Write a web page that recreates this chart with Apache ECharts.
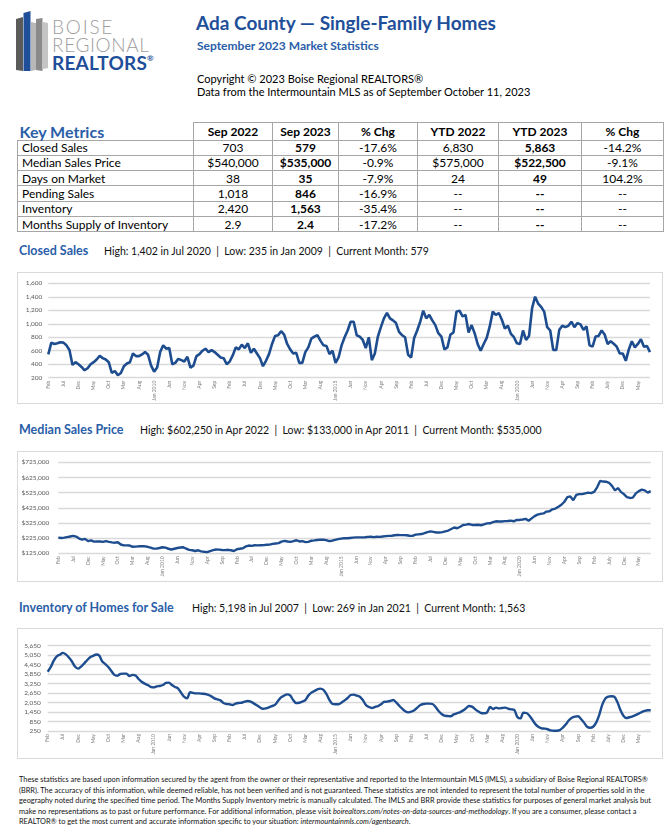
<!DOCTYPE html>
<html><head><meta charset="utf-8">
<script src="https://cdn.jsdelivr.net/npm/echarts@6/dist/echarts.min.js"></script>
<style>
html,body{margin:0;padding:0;background:#fff;}
body{width:671px;height:830px;position:relative;overflow:hidden;font-family:Lato,'Noto Sans',sans-serif;color:#000;}
.abs{position:absolute;white-space:nowrap;line-height:1;}
#title{left:196px;top:13px;font-size:19px;font-weight:bold;color:#1f4f99;}
#subtitle{left:197px;top:40px;font-size:12px;font-weight:bold;color:#2a5ea8;}
#copy1{left:197px;top:72.5px;font-size:11px;}
#copy2{left:197px;top:86px;font-size:11px;}
.box{position:absolute;border:1px solid #d9d9d9;box-sizing:border-box;left:17px;width:646px;}
.sec{position:absolute;white-space:nowrap;line-height:1;font-size:12.5px;}
.sec b{font-size:12.5px;color:#2a5ea8;}
.sec span{font-size:10.5px;color:#111;}
#kt{position:absolute;left:17px;top:122px;border-collapse:collapse;table-layout:fixed;font-size:12px;}
#kt td{border:1.5px solid #a6a6a6;padding:0;text-align:center;height:14.3px;line-height:13px;white-space:nowrap;}
#kt td.l{text-align:left;padding-left:4px;}
#kt tr.h td{height:16.5px;font-weight:bold;}
#kt tr.h td.km{border-top:none;border-left:none;font-size:16px;color:#2a5ea8;text-align:left;padding-left:2px;}
#kt td.b{font-weight:bold;}
#foot{position:absolute;left:19px;top:775px;font-size:7px;line-height:10.6px;color:#111;}
#foot div{white-space:nowrap;}
#chart{position:absolute;left:0;top:0;width:671px;height:830px;z-index:2;pointer-events:none;}
#logo{position:absolute;left:14px;top:8px;}
.lg{position:absolute;white-space:nowrap;line-height:1;}
</style></head>
<body>
<svg id="logo" width="42" height="68" viewBox="0 0 42 68">
  <polygon points="2,11 9,9 9,63 2,62" fill="#5b5b5b"/>
  <polygon points="9.5,5 16.5,3 16.5,63 9.5,63" fill="#1f4f99"/>
  <polygon points="17,14 22,15 22,62 17,63" fill="#b9b9b9"/>
  <polygon points="22,11 28.5,10 28.5,63 22,62" fill="#8a8a8a"/>
  <polygon points="29,14 34,15 34,60 29,61" fill="#c4c4c4"/>
</svg>
<div class="lg" style="left:52px;top:17px;font-size:19px;font-weight:300;color:#9d9d9d;letter-spacing:1.8px;">BOISE</div>
<div class="lg" style="left:52px;top:35px;font-size:19px;font-weight:300;color:#9d9d9d;letter-spacing:0.6px;">REGIONAL</div>
<div class="lg" style="left:52px;top:53px;font-size:19px;font-weight:bold;color:#1f4f99;letter-spacing:0.2px;">REALTORS<span style="font-size:8px;vertical-align:top;position:relative;top:1px;">®</span></div>

<div id="title" class="abs">Ada County — Single-Family Homes</div>
<div id="subtitle" class="abs">September 2023 Market Statistics</div>
<div id="copy1" class="abs">Copyright © 2023 Boise Regional REALTORS®</div>
<div id="copy2" class="abs">Data from the Intermountain MLS as of September October 11, 2023</div>

<table id="kt"></table>

<div class="sec" style="left:19px;top:245px;"><b>Closed Sales</b></div>
<div class="sec" style="left:104px;top:245px;"><span id="sub1"></span></div>
<div class="box" style="top:272px;height:132px;"></div>

<div class="sec" style="left:19px;top:424px;"><b>Median Sales Price</b></div>
<div class="sec" style="left:140px;top:424px;"><span id="sub2"></span></div>
<div class="box" style="top:451px;height:131px;"></div>

<div class="sec" style="left:19px;top:602px;"><b>Inventory of Homes for Sale</b></div>
<div class="sec" style="left:192px;top:602px;"><span id="sub3"></span></div>
<div class="box" style="top:628px;height:131px;"></div>

<div id="foot">
<div>These statistics are based upon information secured by the agent from the owner or their representative and reported to the Intermountain MLS (IMLS), a subsidiary of Boise Regional REALTORS®</div>
<div>(BRR). The accuracy of this information, while deemed reliable, has not been verified and is not guaranteed. These statistics are not intended to represent the total number of properties sold in the</div>
<div>geography noted during the specified time period. The Months Supply Inventory metric is manually calculated. The IMLS and BRR provide these statistics for purposes of general market analysis but</div>
<div>make no representations as to past or future performance. For additional information, please visit <i>boirealtors.com/notes-on-data-sources-and-methodology</i>. If you are a consumer, please contact a</div>
<div>REALTOR® to get the most current and accurate information specific to your situation: <i>intermountainmls.com/agentsearch</i>.</div>
</div>

<div id="chart"></div>
<script>
// ---------- Key metrics table ----------
const metricLabels = ['Closed Sales','Median Sales Price','Days on Market','Pending Sales','Inventory','Months Supply of Inventory'];
const tableHeaders = ['Sep 2022','Sep 2023','% Chg','YTD 2022','YTD 2023','% Chg'];
const sep2022 = ['703','$540,000','38','1,018','2,420','2.9'];
const sep2023 = ['579','$535,000','35','846','1,563','2.4'];
const monthChg = ['-17.6%','-0.9%','-7.9%','-16.9%','-35.4%','-17.2%'];
const ytd2022 = ['6,830','$575,000','24','--','--','--'];
const ytd2023 = ['5,863','$522,500','49','--','--','--'];
const ytdChg = ['-14.2%','-9.1%','104.2%','--','--','--'];

// ---------- chart header texts ----------
const closedSub = 'High: 1,402 in Jul 2020  |  Low: 235 in Jan 2009  |  Current Month: 579';
const priceSub = 'High: $602,250 in Apr 2022  |  Low: $133,000 in Apr 2011  |  Current Month: $535,000';
const invSub = 'High: 5,198 in Jul 2007  |  Low: 269 in Jan 2021  |  Current Month: 1,563';

// ---------- x axis ----------
const startYear = 2007, startMonth = 1; // Feb 2007 (0-based month)
const monthCount = 200;                  // through Sep 2023
const xTickLabels = ['Feb','Jul','Dec','May','Oct','Mar','Aug','Jan 2010','Jun','Nov','Apr','Sep','Feb','Jul','Dec','May','Oct','Mar','Aug','Jan 2015','Jun','Nov','Apr','Sep','Feb','Jul','Dec','May','Oct','Mar','Aug','Jan 2020','Jun','Nov','Apr','Sep','Feb','July','Dec','May'];

// ---------- series values (Feb 2007 .. Sep 2023) ----------
const closedSales = [
545,720,700,710,725,720,680,610,390,430,
400,360,310,340,400,430,470,525,490,470,
430,270,300,235,270,370,410,430,560,520,
520,545,580,540,380,290,350,580,680,630,
640,400,420,480,460,440,510,350,380,520,
550,600,630,580,610,580,540,500,490,400,
440,530,650,620,690,640,710,570,630,560,
490,370,450,550,700,820,830,890,840,700,
620,560,570,420,420,580,650,780,810,830,
750,680,670,550,600,420,500,680,800,900,
1030,1030,830,810,760,640,800,460,560,810,
950,1080,1160,1080,1050,1010,880,830,800,540,
500,790,900,1030,1195,1080,1130,1050,980,860,
810,620,650,840,870,1180,1195,1110,1130,870,
980,860,700,600,700,790,960,1180,1130,1160,
1060,930,970,850,800,710,700,900,760,820,
1230,1402,1300,1250,1180,950,900,610,610,910,
970,950,970,1030,950,1010,990,910,960,680,
660,810,820,900,840,700,740,703,660,560,
560,450,620,740,650,700,770,660,670,579];

const medianPrice = [
228000,226000,228000,232000,236000,240000,235000,222000,215000,220000,
205000,210000,202000,203000,203000,200000,205000,200000,197000,195000,
198000,183000,177000,177000,176000,168000,169000,171000,172000,171000,
168000,162000,156000,156000,160000,165000,162000,155000,150000,155000,
160000,163000,165000,155000,148000,145000,140000,145000,138000,135000,
133000,140000,146000,150000,149000,147000,146000,148000,145000,140000,
152000,155000,158000,170000,176000,174000,178000,177000,178000,179000,
181000,182000,187000,190000,192000,202000,207000,203000,200000,205000,
211000,203000,205000,199000,200000,208000,210000,213000,215000,214000,
212000,205000,208000,213000,218000,222000,224000,224000,226000,228000,
230000,230000,230000,231000,233000,234000,232000,234000,233000,236000,
238000,240000,241000,244000,246000,245000,245000,244000,241000,240000,
248000,250000,252000,258000,265000,270000,266000,262000,262000,265000,
270000,275000,285000,295000,290000,300000,312000,314000,318000,312000,
312000,313000,310000,316000,322000,323000,330000,336000,335000,335000,
337000,338000,340000,336000,345000,345000,348000,352000,340000,355000,
370000,380000,385000,388000,400000,402000,415000,420000,432000,445000,
465000,495000,500000,475000,510000,515000,515000,520000,525000,522000,
530000,560000,602250,598000,597000,590000,570000,540000,555000,530000,
515000,495000,490000,492000,520000,535000,545000,540000,525000,535000];

const inventory = [
4000,4300,4700,4980,5080,5198,5100,4900,4650,4330,
4200,4330,4520,4730,4920,5010,5090,5030,4650,4490,
4300,4050,3800,3750,3860,3880,3880,3730,3800,3770,
3540,3370,3250,3160,3040,3010,3080,3100,3160,3290,
3310,3160,3040,2950,2680,2420,2320,2700,2660,2630,
2630,2610,2590,2530,2440,2320,2250,2190,2020,1960,
1940,1900,1980,2020,2040,2110,2150,2110,2000,1880,
1750,1660,1680,1750,1830,1900,2150,2380,2490,2570,
2510,2210,2020,2040,2110,2210,2490,2680,2780,2890,
2930,2850,2590,2210,1960,1940,1940,2060,2190,2340,
2530,2550,2490,2420,2210,1900,1770,1710,1770,1830,
1940,2090,2110,2150,2210,2060,1850,1660,1500,1430,
1470,1560,1730,1900,1960,1980,1980,1960,1770,1520,
1330,1220,1200,1180,1300,1370,1430,1540,1680,1830,
1790,1640,1500,1390,1370,1430,1770,1640,1730,1680,
1710,1730,1660,1620,1580,1140,1050,1410,1390,1220,
950,670,500,420,400,360,290,269,270,310,
460,670,930,1090,1160,1180,1010,780,520,460,
520,780,1260,1900,2300,2430,2450,2420,2080,1580,
1220,1070,1120,1180,1260,1350,1450,1520,1560,1563];

// ---------- build table ----------
(function(){
  const t = document.getElementById('kt');
  const widths = [176,79,66,79,81,83,82];
  let cg = '<colgroup>' + widths.map(w=>'<col style="width:'+w+'px">').join('') + '</colgroup>';
  let h = '<tr class="h"><td class="km">Key Metrics</td>' + tableHeaders.map(x=>'<td>'+x+'</td>').join('') + '</tr>';
  for (let i=0;i<metricLabels.length;i++){
    h += '<tr><td class="l">'+metricLabels[i]+'</td><td>'+sep2022[i]+'</td><td class="b">'+sep2023[i]+'</td><td>'+monthChg[i]+'</td><td>'+ytd2022[i]+'</td><td class="b">'+ytd2023[i]+'</td><td>'+ytdChg[i]+'</td></tr>';
  }
  t.innerHTML = cg + h;
  t.style.width = widths.reduce((a,b)=>a+b,0)+'px';
  document.getElementById('sub1').textContent = closedSub;
  document.getElementById('sub2').textContent = priceSub;
  document.getElementById('sub3').textContent = invSub;
  document.querySelectorAll('.sec span').forEach(s=>{s.style.whiteSpace='pre';});
  // fit footer lines
  const lines = document.querySelectorAll('#foot div');
  const w0 = lines[0].getBoundingClientRect().width;
  const fs = 7 * 633 / w0;
  document.getElementById('foot').style.fontSize = fs.toFixed(2)+'px';
})();

// ---------- charts ----------
const months = [];
for (let i=0;i<monthCount;i++){
  const m = (startMonth + i) % 12, y = startYear + Math.floor((startMonth + i)/12);
  months.push(['Jan','Feb','Mar','Apr','May','Jun','Jul','Aug','Sep','Oct','Nov','Dec'][m] + ' ' + y);
}
const LINE = '#1d4d8f', GRID = '#d9d9d9';
const fmtNum = v => v.toLocaleString('en-US');
function xAxisFor(k){
  return {gridIndex:k, type:'category', data:months, boundaryGap:false,
    axisLine:{show:false}, axisTick:{show:false}, splitLine:{show:false},
    axisLabel:{interval:4, rotate:90, fontSize:5, color:'#7f7f7f', margin:3, fontFamily:'Lato',
      formatter:(v,idx)=> (idx%5===0 ? (xTickLabels[idx/5]||'') : '')}};
}
const chart = echarts.init(document.getElementById('chart'), null, {renderer:'canvas'});
chart.setOption({
  animation:false,
  backgroundColor:'transparent',
  grid:[
    {left:48.3, top:283.3, width:601.7, height:94.4},
    {left:58.3, top:462.3, width:592.4, height:91},
    {left:47.7, top:645.7, width:603, height:85.3}
  ],
  xAxis:[xAxisFor(0), xAxisFor(1), xAxisFor(2)],
  yAxis:[
    {gridIndex:0, type:'value', min:200, max:1600, interval:200,
     axisLine:{show:false}, axisTick:{show:false},
     axisLabel:{fontSize:6.5, color:'#595959', margin:6, fontFamily:'Lato', formatter:v=>fmtNum(v)},
     splitLine:{lineStyle:{color:GRID, width:1.3}}},
    {gridIndex:1, type:'value', min:125000, max:725000, interval:25000,
     axisLine:{show:false}, axisTick:{show:false},
     axisLabel:{fontSize:6.5, color:'#595959', margin:9, fontFamily:'Lato',
       formatter:v=> ((v-125000)%100000===0 ? '$'+fmtNum(v) : '')},
     splitLine:{lineStyle:{color:[GRID,'transparent','transparent','transparent'], width:1.3}}},
    {gridIndex:2, type:'value', min:250, max:5650, interval:50,
     axisLine:{show:false}, axisTick:{show:false},
     axisLabel:{fontSize:6.5, color:'#595959', margin:7, fontFamily:'Lato',
       formatter:v=> ((v-250)%600===0 ? fmtNum(v) : '')},
     splitLine:{lineStyle:{color:[GRID].concat(new Array(11).fill('transparent')), width:1.3}}}
  ],
  series:[
    {type:'line', xAxisIndex:0, yAxisIndex:0, data:closedSales, showSymbol:false, lineStyle:{color:LINE, width:2.6}, itemStyle:{color:LINE}},
    {type:'line', xAxisIndex:1, yAxisIndex:1, data:medianPrice, showSymbol:false, lineStyle:{color:LINE, width:2.4}, itemStyle:{color:LINE}},
    {type:'line', xAxisIndex:2, yAxisIndex:2, data:inventory, showSymbol:false, smooth:0.3, lineStyle:{color:LINE, width:2.4}, itemStyle:{color:LINE}}
  ]
});
</script>
</body></html>
